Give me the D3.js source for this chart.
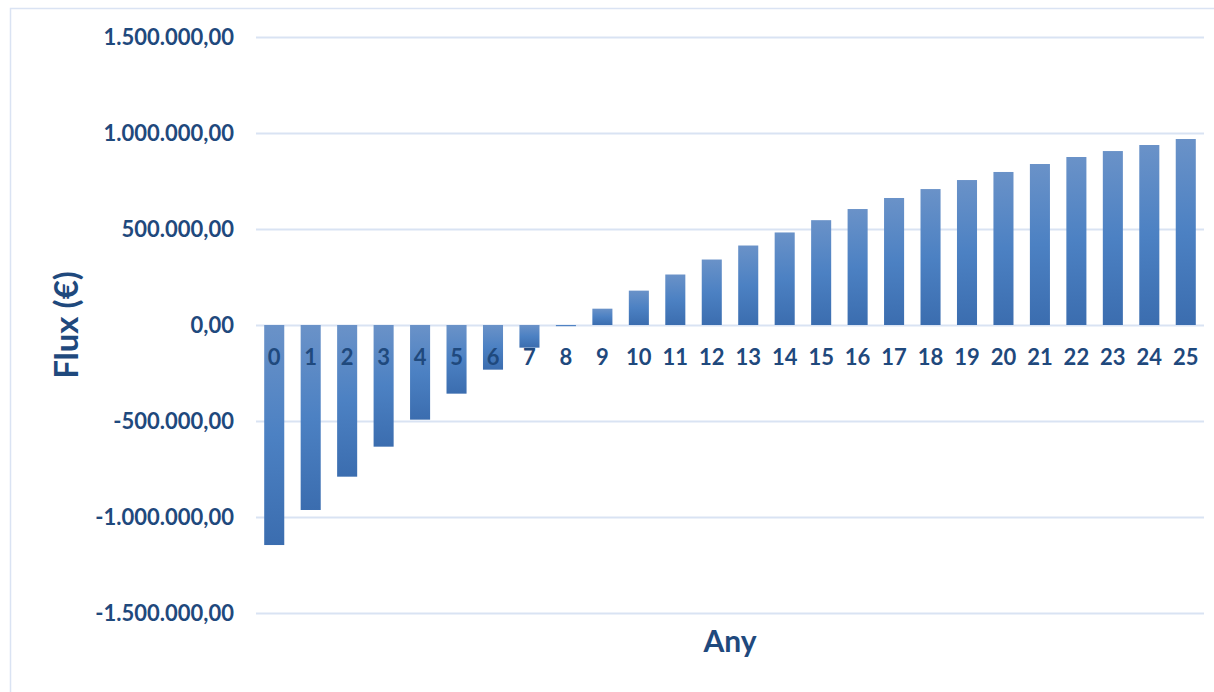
<!DOCTYPE html>
<html>
<head>
<meta charset="utf-8">
<script src="https://cdn.jsdelivr.net/npm/d3@7"></script>
<style>
  html, body { margin: 0; padding: 0; background: #ffffff; }
  svg { display: block; }
  text { font-family: Lato, "Open Sans", sans-serif; font-weight: 700; }
</style>
</head>
<body>
<svg id="chart" width="1214" height="692"></svg>
<script>
const years = ["0","1","2","3","4","5","6","7","8","9","10","11","12","13","14","15","16","17","18","19","20","21","22","23","24","25"];
const flux = [-1146000, -963500, -790000, -633700, -493000, -357600, -232600, -118000, -6000,
  85000, 179000, 263000, 341000, 414000, 482000, 546000, 604000, 661500, 708000, 755000,
  797000, 838500, 875000, 906000, 937500, 968750];
const yTicks = [-1500000, -1000000, -500000, 0, 500000, 1000000, 1500000];
const xTitle = "Any";
const yTitle = "Flux (€)";

const W = 1214, H = 692;
const margin = { left: 256, right: 10, top: 37, bottom: 79 };
const svg = d3.select("#chart");
const textColor = "#1f497d";
const gridColor = "#d9e3f3";

// chart area border
svg.append("rect")
  .attr("x", 10.5).attr("y", 8.5)
  .attr("width", W + 10).attr("height", H + 10)
  .attr("fill", "#ffffff")
  .attr("stroke", "#dae3f3").attr("stroke-width", 1.5);

const x = d3.scaleBand().domain(years).range([margin.left, W - margin.right]).paddingInner(0.45).paddingOuter(0.225);
const y = d3.scaleLinear().domain([-1500000, 1500000]).range([H - margin.bottom, margin.top]);

const loc = d3.formatLocale({ decimal: ",", thousands: ".", grouping: [3], currency: ["", " €"], minus: "-" });
const fmt = loc.format(",.2f");

// gradient
const defs = svg.append("defs");
const grad = defs.append("linearGradient").attr("id", "barGrad")
  .attr("x1", 0).attr("y1", 0).attr("x2", 0).attr("y2", 1);
grad.append("stop").attr("offset", "0%").attr("stop-color", "#6a92c8");
grad.append("stop").attr("offset", "50%").attr("stop-color", "#4c81c3");
grad.append("stop").attr("offset", "100%").attr("stop-color", "#3b6daf");

// gridlines
const yAxis = d3.axisLeft(y).tickValues(yTicks).tickFormat(fmt)
  .tickSize(-(W - margin.right - margin.left)).tickPadding(22);
const gy = svg.append("g").attr("transform", `translate(${margin.left},0)`).call(yAxis);
gy.select(".domain").remove();
gy.selectAll(".tick line").attr("stroke", gridColor).attr("stroke-width", 2);
gy.selectAll(".tick text")
  .attr("fill", textColor).style("font-size", "22px").style("font-weight", 700)
  .style("font-family", "Lato, 'Open Sans', sans-serif");

// bars
svg.append("g").selectAll("rect").data(flux).join("rect")
  .attr("x", (d, i) => x(years[i]))
  .attr("width", x.bandwidth())
  .attr("y", d => Math.min(y(d), y(0)))
  .attr("height", d => Math.max(1, Math.abs(y(d) - y(0))))
  .attr("fill", "url(#barGrad)");

// x labels (inside plot, under zero line)
const xAxis = d3.axisBottom(x).tickSize(0).tickPadding(24);
const gx = svg.append("g").attr("transform", `translate(0,${y(0)})`).call(xAxis);
gx.select(".domain").remove();
gx.selectAll(".tick text")
  .attr("fill", textColor).style("font-size", "22px").style("font-weight", 700)
  .style("font-family", "Lato, 'Open Sans', sans-serif");

// titles
svg.append("text")
  .attr("x", (margin.left + W - margin.right) / 2).attr("y", 652)
  .attr("text-anchor", "middle").attr("fill", textColor)
  .style("font-size", "30px").text(xTitle);

svg.append("text")
  .attr("transform", `translate(78,${y(0)}) rotate(-90)`)
  .attr("text-anchor", "middle").attr("fill", textColor)
  .style("font-size", "33px").text(yTitle);
</script>
</body>
</html>
